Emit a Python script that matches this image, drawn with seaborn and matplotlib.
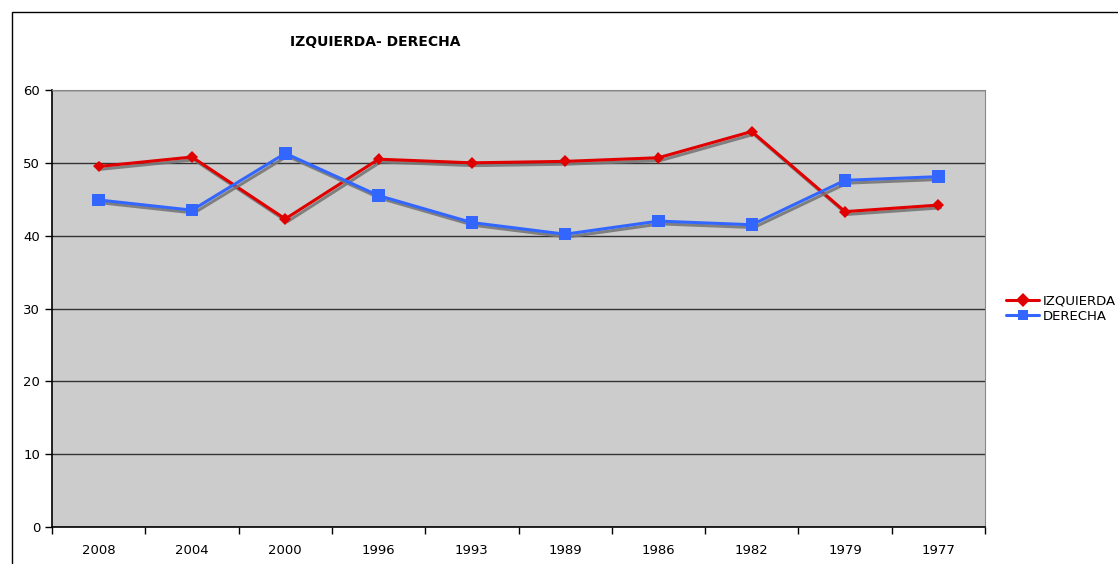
import matplotlib
matplotlib.use('Agg')
import matplotlib.pyplot as plt
import matplotlib.patheffects as pe
import pandas as pd
import seaborn as sns

# datos
anios = ['2008', '2004', '2000', '1996', '1993', '1989', '1986', '1982', '1979', '1977']
izquierda = [49.5, 50.8, 42.3, 50.5, 50.0, 50.2, 50.7, 54.3, 43.3, 44.2]
derecha = [44.9, 43.5, 51.3, 45.5, 41.8, 40.2, 42.0, 41.5, 47.6, 48.1]

df = pd.DataFrame({
    'pos': list(range(len(anios))) * 2,
    'valor': izquierda + derecha,
    'serie': ['IZQUIERDA'] * len(anios) + ['DERECHA'] * len(anios),
})

sns.set_style('white')
plt.rcParams['font.family'] = ['DejaVu Sans']
plt.rcParams['text.color'] = 'black'
plt.rcParams['xtick.color'] = 'black'
plt.rcParams['ytick.color'] = 'black'

fig = plt.figure(figsize=(11.18, 5.64), dpi=100)
ax = fig.add_axes([52 / 1118, 1 - 527 / 564, 933 / 1118, 437 / 564])
ax.set_facecolor('#cccccc')

sombra = [pe.SimpleLineShadow(offset=(1.5, -2), shadow_color='#777777', alpha=0.9), pe.Normal()]
sns.lineplot(data=df, x='pos', y='valor', hue='serie', style='serie',
             palette={'IZQUIERDA': '#e00000', 'DERECHA': '#3366ff'},
             markers={'IZQUIERDA': 'D', 'DERECHA': 's'},
             dashes=False, markersize=7, linewidth=2.2, markeredgewidth=0,
             ax=ax, legend=True)
for ln in ax.lines:
    ln.set_path_effects(sombra)
ax.lines[0].set_markersize(6)
ax.lines[1].set_markersize(9)

ax.set_xlim(-0.5, 9.5)
ax.set_ylim(0, 60)
ax.set_yticks(range(0, 61, 10))
ax.yaxis.grid(True, color='#333333', linewidth=1)
ax.set_axisbelow(True)
ax.set_xticks([i + 0.5 for i in range(-1, 10)])
ax.set_xticklabels([])
ax.set_xticks(range(len(anios)), minor=True)
ax.set_xticklabels(anios, minor=True)
ax.tick_params(axis='x', which='major', bottom=True, direction='out', length=5, color='black', width=1)
ax.tick_params(axis='x', which='minor', bottom=False, length=0, pad=12, labelsize=9.5)
ax.tick_params(axis='y', left=True, direction='out', length=5, color='black', width=1, labelsize=9.5)
ax.set_xlabel('')
ax.set_ylabel('')
for s in ['top', 'right']:
    ax.spines[s].set_color('#888888')
for s in ['left', 'bottom']:
    ax.spines[s].set_color('black')
    ax.spines[s].set_linewidth(1.2)

leg = ax.legend(loc='center left', bbox_to_anchor=(1.01, 0.5), frameon=False,
                fontsize=9.5, handlelength=2.5, handletextpad=0.3, labelspacing=0.2)
for h in leg.legend_handles:
    h.set_path_effects([])
for t in leg.get_texts():
    t.set_color('black')

fig.text(375 / 1118, 1 - 42 / 564, 'IZQUIERDA- DERECHA', ha='center', va='center',
         fontsize=10, fontweight='bold', color='black')
fig.patches.append(plt.Rectangle((12 / 1118, -0.1), 1.2, 1 - 12 / 564 + 0.1,
                                 transform=fig.transFigure, fill=False,
                                 edgecolor='black', linewidth=1))

fig.savefig('out.png', dpi=100)
